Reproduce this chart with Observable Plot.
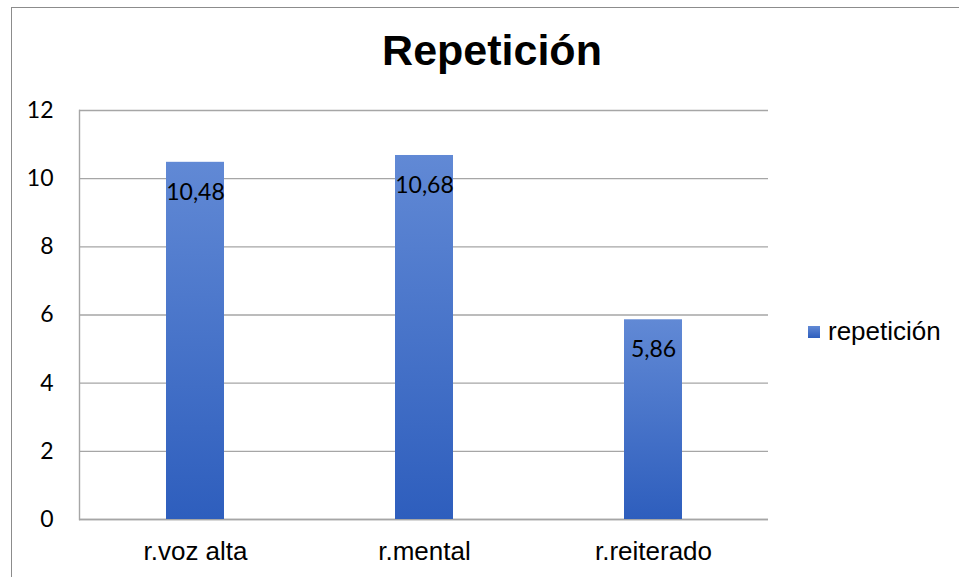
<!DOCTYPE html>
<html>
<head>
<meta charset="utf-8">
<script src="https://cdn.jsdelivr.net/npm/d3@7"></script>
<script src="https://cdn.jsdelivr.net/npm/@observablehq/plot@0.6"></script>
<style>
  html, body { margin: 0; padding: 0; background: #fff; }
  #wrap { position: relative; width: 959px; height: 577px; overflow: hidden; }
  #border { position: absolute; left: 11px; top: 7px; width: 1000px; height: 700px; border-left: 1px solid #8c8c8c; border-top: 1px solid #8c8c8c; }
  #title { position: absolute; left: 0; width: 984px; top: 26px; text-align: center; font: bold 43px "Liberation Sans", Arial, sans-serif; color: #000; }
  #legend { position: absolute; left: 808px; top: 316px; font: 26px "Liberation Sans", Arial, sans-serif; color: #000; display: flex; align-items: center; white-space: nowrap; }
  #legend .sw { width: 12px; height: 12px; background: linear-gradient(#6189d5, #2e5ebd); margin-right: 8px; }
  #chart { position: absolute; left: 0; top: 0; }
</style>
</head>
<body>
<div id="wrap">
  <div id="border"></div>
  <div id="chart"></div>
  <div id="title">Repetición</div>
  <div id="legend"><div class="sw"></div><span>repetición</span></div>
</div>
<script>
const categories = ["r.voz alta", "r.mental", "r.reiterado"];
const values = [10.48, 10.68, 5.86];
const yTicks = [0, 2, 4, 6, 8, 10, 12];
const seriesName = "repetición";

const data = categories.map((c, i) => ({cat: c, value: values[i]}));
const fmt = v => v.toFixed(2).replace(".", ",");

const plot = Plot.plot({
  width: 959,
  height: 577,
  marginTop: 110,
  marginBottom: 58,
  marginLeft: 79,
  marginRight: 191,
  style: {background: "transparent", overflow: "visible"},
  x: {domain: categories, paddingInner: 0.747, paddingOuter: 0.3735, label: null},
  y: {domain: [0, 12], ticks: yTicks, label: null},
  marks: [
    Plot.gridY(yTicks, {stroke: "#a6a6a6", strokeOpacity: 1, strokeWidth: 1.4}),
    Plot.frame({anchor: "left", stroke: "#a6a6a6", strokeWidth: 1.4}),
    Plot.ruleY([0], {stroke: "#a6a6a6", strokeWidth: 1.4}),
    Plot.barY(data, {x: "cat", y: "value", fill: "#4a76cb"}),
    Plot.text(data, {x: "cat", y: "value", text: d => fmt(d.value), dy: 30, fontSize: 23, fill: "#000", fontFamily: "Lato, 'Liberation Sans', sans-serif"}),
    Plot.axisY(yTicks, {tickSize: 0, tickPadding: 26, fontSize: 23, fontFamily: "Lato, 'Liberation Sans', sans-serif", fill: "#000", label: null}),
    Plot.axisX({tickSize: 0, tickPadding: 22, fontSize: 26, fontFamily: "'Liberation Sans', Arial, sans-serif", fill: "#000", label: null})
  ]
});

const svgNS = "http://www.w3.org/2000/svg";
const defs = document.createElementNS(svgNS, "defs");
defs.innerHTML = '<linearGradient id="barGrad" x1="0" y1="0" x2="0" y2="1"><stop offset="0" stop-color="#6189d5"/><stop offset="1" stop-color="#2e5ebd"/></linearGradient>';
plot.insertBefore(defs, plot.firstChild);
plot.querySelectorAll('g[aria-label="bar"] rect').forEach(r => r.setAttribute("fill", "url(#barGrad)"));
document.getElementById("chart").appendChild(plot);
</script>
</body>
</html>
